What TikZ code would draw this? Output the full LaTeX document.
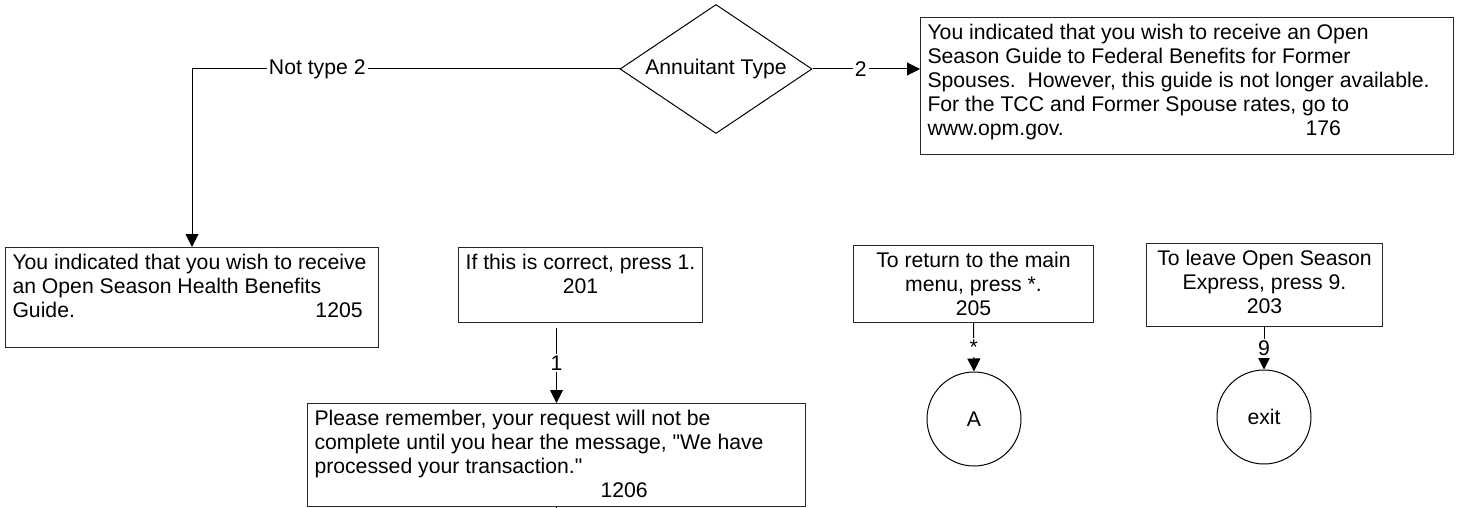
\documentclass[tikz,border=0pt]{standalone}
\usepackage{fontspec}
\setmainfont{Liberation Sans}
\usetikzlibrary{shapes.geometric,arrows.meta}
\newcommand{\msgtext}[3]{\parbox[c][#1][t]{#2}{#3}}
\newcommand{\dq}{\XeTeXglyph\XeTeXcharglyph"22\relax}

\begin{document}
\begin{tikzpicture}[x=0.5pt, y=-0.5pt,
      every node/.style = {font=\fontsize{10.6}{12}\selectfont},
      msgbox/.style = {shape=rectangle, draw=black!85, line width=0.5pt,
        inner xsep=3.5pt, inner ysep=3.5pt, anchor=north west},
      decision/.style = {shape=diamond, aspect=1.5, draw, line width=0.5pt, inner sep=0pt,
        minimum width=96pt, minimum height=64.5pt},
      offpage/.style = {shape=circle, draw, line width=0.5pt, minimum size=47pt},
      conn/.style = {draw, line width=0.5pt, -{Triangle[length=6.5pt,width=6.5pt]}},
      lbl/.style = {fill=white, inner sep=1pt}]
      \useasboundingbox (0,0) rectangle (1463,508);
      % decision and its two branches
      \node[decision] (annuitant) at (716,69) {Annuitant Type};
      \node[msgbox] (spouseguide) at (920,17) {\msgtext{61.5pt}{259.5pt}{\raggedright
        You indicated that you wish to receive an Open\\
        Season Guide to Federal Benefits for Former\\
        Spouses.\ \ However, this guide is not longer available.\\
        For the TCC and Former Spouse rates, go to\\
        \makebox[189pt][l]{www.opm.gov.}176}};
      \node[msgbox] (hbguide) at (5,247) {\msgtext{43pt}{179.5pt}{\raggedright
        You indicated that you wish to receive\\
        an Open Season Health Benefits\\
        \makebox[151.5pt][l]{Guide.}1205}};
      % confirmation prompts
      \node[msgbox] (confirm) at (458,247) {\msgtext{30.5pt}{115pt}{\centering
        If this is correct, press 1.\\ 201}};
      \node[msgbox] (remember) at (307,403) {\msgtext{44.5pt}{242pt}{\raggedright
        Please remember, your request will not be\\
        complete until you hear the message, \dq We have\\
        processed your transaction.\dq\\
        \hspace*{143pt}1206}};
      \node[msgbox] (mainmenu) at (853,245) {\msgtext{31.5pt}{113pt}{\centering
        To return to the main\\ menu, press *.\\ 205}};
      \node[msgbox] (leave) at (1146,243) {\msgtext{34.5pt}{111pt}{\centering
        To leave Open Season\\ Express, press 9.\\ 203}};
      \node[offpage] (menuA) at (974,419) {A};
      \node[offpage] (exit) at (1264,417) {exit};
      \coordinate (next) at (556,514);

      \draw[conn] (annuitant.west) -- node[lbl, pos=0.707] {Not type 2}
        (annuitant.west -| hbguide.north) -- (hbguide.north);
      \draw[conn] (annuitant.east) -- node[lbl, pos=0.45] {2}
        (annuitant.east -| spouseguide.west);
      \draw[conn, shorten <=2.5pt] (confirm.south -| remember.north) -- node[lbl] {1}
        (remember.north);
      \draw[conn] (mainmenu.south) -- node[lbl] {*} (menuA.north);
      \draw[conn] (leave.south -| exit.north) -- node[lbl] {9} (exit.north);
      \draw[line width=0.5pt] (remember.south) -- (next);
\end{tikzpicture}
\end{document}
